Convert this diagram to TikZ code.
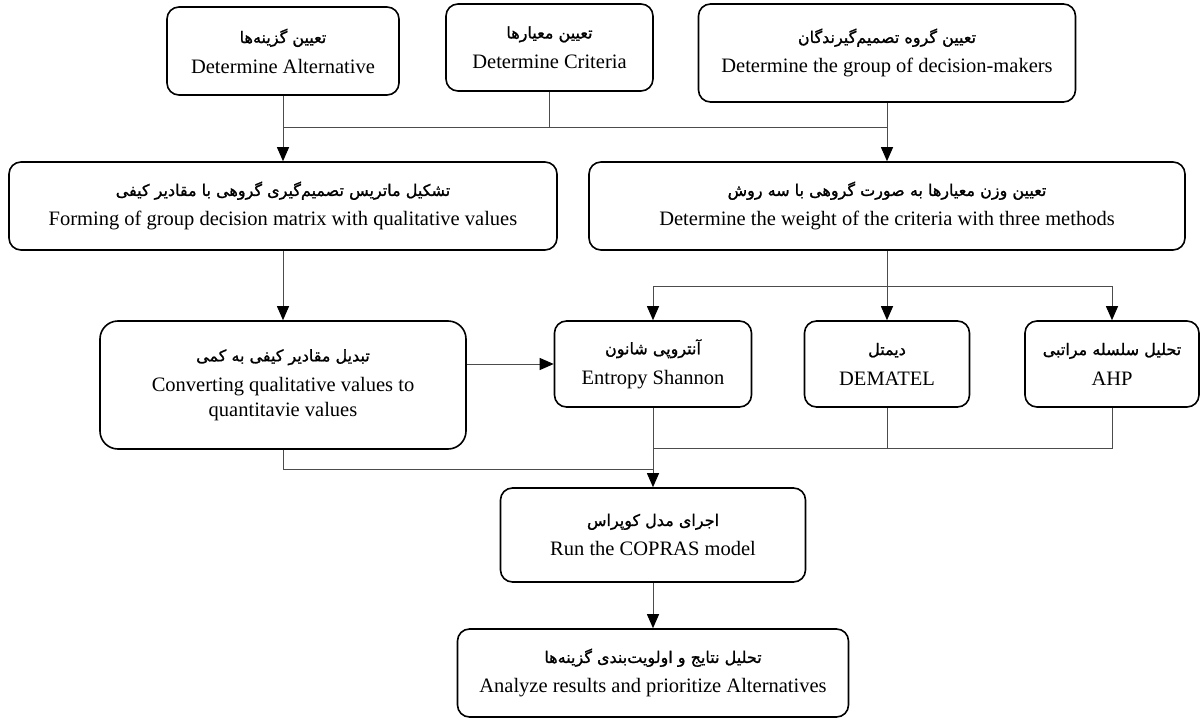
\documentclass[tikz,border=0pt]{standalone}
\usepackage{fontspec}
\setmainfont{Liberation Serif}
\newfontfamily\fa[Script=Arabic,FakeBold=1.2]{DejaVu Sans}
\TeXXeTstate=1
\usetikzlibrary{arrows.meta}
\newcommand{\fat}[1]{{\fa\fontsize{16}{18}\selectfont\beginR #1\endR}}
\tikzset{
  box/.style={draw=black, line width=1.6pt, rounded corners=12pt, align=center,
    inner sep=0pt, font=\fontsize{20.5}{25}\selectfont},
  conn/.style={draw=black!70, line width=1pt},
  arr/.style={conn, -{Triangle[length=14pt,width=12pt,color=black]}},
}
\begin{document}
\begin{tikzpicture}[x=1pt,y=-1pt]
\useasboundingbox (0,0) rectangle (1200,720);
\node[box, minimum width=232pt, minimum height=88pt] (A) at (283,51)
  {\fat{تعیین گزینه‌ها}\\[5pt] Determine Alternative};
\node[box, minimum width=207pt, minimum height=87pt] (B) at (549.5,47.5)
  {\fat{تعیین معیارها}\\[5pt] Determine Criteria};
\node[box, minimum width=377pt, minimum height=98pt] (C) at (887,53)
  {\fat{تعیین گروه تصمیم‌گیرندگان}\\[5pt] Determine the group of decision-makers};
\node[box, minimum width=548pt, minimum height=88pt] (D) at (283,206)
  {\fat{تشکیل ماتریس تصمیم‌گیری گروهی با مقادیر کیفی}\\[5pt] Forming of group decision matrix with qualitative values};
\node[box, minimum width=596pt, minimum height=88pt] (E) at (887,206)
  {\fat{تعیین وزن معیارها به صورت گروهی با سه روش}\\[5pt] Determine the weight of the criteria with three methods};
\node[box, rounded corners=18pt, minimum width=366pt, minimum height=128pt] (F) at (283,385)
  {\fat{تبدیل مقادیر کیفی به کمی}\\[5pt] Converting qualitative values to\\ quantitavie values};
\node[box, minimum width=197pt, minimum height=86pt] (G) at (653,364)
  {\fat{آنتروپی شانون}\\[5pt] Entropy Shannon};
\node[box, minimum width=165pt, minimum height=86pt] (H) at (887,364)
  {\fat{دیمتل}\\[5pt] DEMATEL};
\node[box, minimum width=174pt, minimum height=86pt] (I) at (1112,364)
  {\fat{تحلیل سلسله مراتبی}\\[5pt] AHP};
\node[box, minimum width=305pt, minimum height=94pt] (J) at (653,535)
  {\fat{اجرای مدل کوپراس}\\[5pt] Run the COPRAS model};
\node[box, minimum width=391pt, minimum height=88pt] (K) at (653,673)
  {\fat{تحلیل نتایج و اولویت‌بندی گزینه‌ها}\\[5pt] Analyze results and prioritize Alternatives};
% top bus
\coordinate (t1) at (283,127);
\coordinate (t2) at (887,127);
\draw[conn] (t1) -- (t2);
\draw[conn] (B.south) -- (B.south |- t1);
\draw[arr] (A.south) -- (D.north);
\draw[arr] (C.south) -- (E.north);
% weight bus
\coordinate (w1) at (653,286);
\coordinate (w2) at (1112,286);
\draw[conn] (w1) -- (w2);
\draw[conn] (E.south) -- (E.south |- w1);
\draw[arr] (w1) -- (G.north);
\draw[arr] (E.south |- w1) -- (H.north);
\draw[arr] (w2) -- (I.north);
% left chain
\draw[arr] (D.south) -- (F.north);
\draw[arr] (F.east |- G.west) -- (G.west);
% bottom buses
\coordinate (m1) at (653,448);
\coordinate (c1) at (653,469);
\draw[conn] (I.south) |- (m1);
\draw[conn] (H.south) -- (H.south |- m1);
\draw[conn] (F.south) |- (c1);
\draw[arr] (G.south) -- (J.north);
\draw[arr] (J.south) -- (K.north);
\end{tikzpicture}
\end{document}
